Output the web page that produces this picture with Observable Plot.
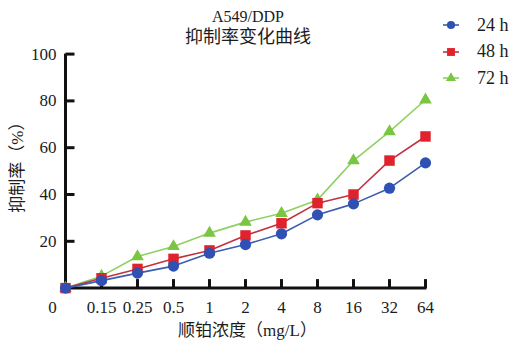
<!DOCTYPE html>
<html>
<head>
<meta charset="utf-8">
<script src="https://cdn.jsdelivr.net/npm/d3@7"></script>
<script src="https://cdn.jsdelivr.net/npm/@observablehq/plot@0.6"></script>
<style>
  html, body { margin: 0; padding: 0; background: #fff; }
  #chart { position: relative; width: 513px; height: 342px; font-family: "Liberation Serif", "Noto Sans CJK SC", serif; color: #1c1c1c; }
  #chart > svg { position: absolute; left: 0; top: 0; }
  #title { position: absolute; left: 140px; width: 216px; top: 6px; text-align: center; line-height: 21px; }
  #title .latin { font-size: 16px; }
  #title .cjk { font-size: 18px; }
  #legend { position: absolute; left: 442px; top: 12px; }
  .item { display: flex; align-items: center; height: 26.5px; font-size: 18px; white-space: pre; }
  .item svg { margin-right: 17px; }
</style>
</head>
<body>
<div id="chart">
  <div id="title"></div>
  <div id="legend"></div>
</div>
<script>
// Cisplatin concentrations (mg/L) and inhibition rates (%) of A549/DDP cells
const concentrations = ["0", "0.15", "0.25", "0.5", "1", "2", "4", "8", "16", "32", "64"];
const inhibition24h = [0, 3.2, 6.4, 9.4, 14.9, 18.6, 23.2, 31.3, 36.0, 42.7, 53.5];
const inhibition48h = [0, 4.2, 8.2, 12.5, 16.1, 22.5, 27.7, 36.3, 40.0, 54.5, 64.8];
const inhibition72h = [0, 5.1, 13.5, 17.8, 23.5, 28.2, 32.0, 37.7, 54.5, 66.9, 80.5];
const seriesNames = ["24 h", "48 h", "72 h"];
const yTicks = [20, 40, 60, 80, 100];

const titleLatin = "A549/DDP";
const titleCjk = "抑制率变化曲线";
const yLabel = "抑制率（%）";
const xLabel = "顺铂浓度（mg/L）";

const styles = {
  "24 h": {fill: "#2f51b3", line: "#3d5cae", symbol: "circle", r: 5.6},
  "48 h": {fill: "#e0222c", line: "#c0323f", symbol: "square", r: 5.9},
  "72 h": {fill: "#78c641", line: "#8ed062", symbol: "triangle", r: 4.7}
};

const seriesValues = {"24 h": inhibition24h, "48 h": inhibition48h, "72 h": inhibition72h};
const rows = seriesNames.flatMap(name =>
  concentrations.map((c, i) => ({series: name, conc: c, value: seriesValues[name][i]}))
);

// Inward-pointing tick shapes for the axes
const tickRight = {draw(context) { context.moveTo(0, 0); context.lineTo(9, 0); }};
const tickUp = {draw(context) { context.moveTo(0, 0); context.lineTo(0, -9); }};

const ink = "#111";
const textColor = "#1c1c1c";
const font = "'Liberation Serif', 'Noto Sans CJK SC', serif";

// Draw order: 72 h at the bottom, 24 h on top
const seriesMarks = [...seriesNames].reverse().flatMap(name => {
  const s = styles[name];
  const data = rows.filter(d => d.series === name);
  return [
    Plot.line(data, {x: "conc", y: "value", stroke: s.line, strokeWidth: 1.6}),
    Plot.dot(data, {x: "conc", y: "value", symbol: s.symbol, r: s.r, fill: s.fill, stroke: "none"})
  ];
});

const plot = Plot.plot({
  width: 513,
  height: 342,
  marginLeft: 65,
  marginRight: 88,
  marginTop: 53.6,
  marginBottom: 54.4,
  style: {fontFamily: font, background: "transparent", color: textColor},
  x: {type: "point", domain: concentrations, padding: 0, axis: null},
  y: {domain: [0, 100], axis: null},
  marks: [
    // axis lines
    Plot.ruleX([concentrations[0]], {x: d => d, y1: 0, y2: 100, stroke: ink, strokeWidth: 3}),
    Plot.ruleY([0], {y: d => d, stroke: ink, strokeWidth: 3, strokeLinecap: "square"}),
    // ticks
    Plot.dot(yTicks, {x: () => concentrations[0], y: d => d, symbol: tickRight, stroke: ink, fill: "none", strokeWidth: 3}),
    Plot.dot(concentrations.slice(1), {x: d => d, y: () => 0, symbol: tickUp, stroke: ink, fill: "none", strokeWidth: 3}),
    // tick labels
    Plot.text(yTicks, {x: () => concentrations[0], y: d => d, text: d => String(d), textAnchor: "end", dx: -9, fontSize: 17, fill: textColor}),
    Plot.text(concentrations.slice(1), {x: d => d, y: () => 0, text: d => d, dy: 19, fontSize: 17, fill: textColor}),
    Plot.text(concentrations.slice(0, 1), {x: d => d, y: () => 0, text: d => d, dx: -13, dy: 19, fontSize: 17, fill: textColor}),
    // axis titles
    Plot.text([yLabel], {frameAnchor: "left", textAnchor: "middle", lineAnchor: "middle", text: d => d, rotate: -90, dx: -48, dy: -8, fontSize: 17, fill: textColor}),
    Plot.text([xLabel], {frameAnchor: "bottom", textAnchor: "middle", lineAnchor: "middle", text: d => d, dy: 42, dx: 2, fontSize: 17, fill: textColor}),
    ...seriesMarks
  ]
});

const chart = document.getElementById("chart");
chart.insertBefore(plot, chart.firstChild);

document.getElementById("title").innerHTML =
  `<div class="latin">${titleLatin}</div><div class="cjk">${titleCjk}</div>`;

// Legend
const legend = document.getElementById("legend");
const symbolPath = {
  circle: d3.symbol(d3.symbolCircle, 52)(),
  square: d3.symbol(d3.symbolSquare, 62)(),
  triangle: d3.symbol(d3.symbolTriangle, 44)()
};
for (const name of seriesNames) {
  const s = styles[name];
  const row = document.createElement("div");
  row.className = "item";
  row.innerHTML =
    `<svg width="18" height="14" viewBox="-9 -7 18 14">` +
    `<line x1="-8" x2="8" y1="0" y2="0" stroke="${s.line}" stroke-width="1.6"/>` +
    `<path d="${symbolPath[s.symbol]}" fill="${s.fill}"/></svg>` +
    `<span>${name}</span>`;
  legend.appendChild(row);
}
</script>
</body>
</html>
